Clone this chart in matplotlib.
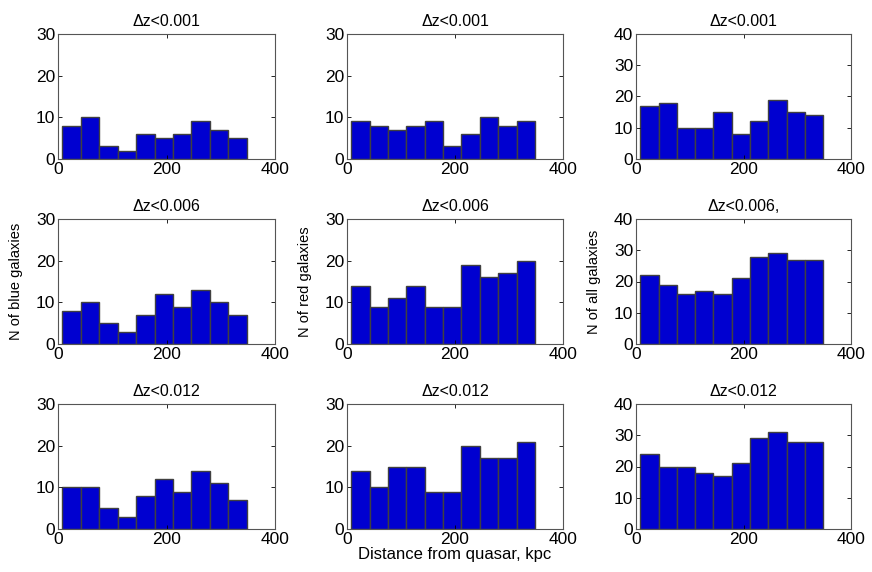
import matplotlib
matplotlib.use("Agg")
import matplotlib.pyplot as plt
import numpy as np

plt.rcParams['font.family'] = ['Liberation Sans', 'DejaVu Sans']

# histogram bin edges (kpc)
bin_edges = [8, 42, 76, 110, 144, 178, 212, 246, 280, 314, 348]

# counts per bin: rows = dz cut, columns = blue / red / all
blue_001 = [8, 10, 3, 2, 6, 5, 6, 9, 7, 5]
red_001 = [9, 8, 7, 8, 9, 3, 6, 10, 8, 9]
all_001 = [17, 18, 10, 10, 15, 8, 12, 19, 15, 14]
blue_006 = [8, 10, 5, 3, 7, 12, 9, 13, 10, 7]
red_006 = [14, 9, 11, 14, 9, 9, 19, 16, 17, 20]
all_006 = [22, 19, 16, 17, 16, 21, 28, 29, 27, 27]
blue_012 = [10, 10, 5, 3, 8, 12, 9, 14, 11, 7]
red_012 = [14, 10, 15, 15, 9, 9, 20, 17, 17, 21]
all_012 = [24, 20, 20, 18, 17, 21, 29, 31, 28, 28]

counts = [[blue_001, red_001, all_001],
          [blue_006, red_006, all_006],
          [blue_012, red_012, all_012]]
titles = [["Δz<0.001", "Δz<0.001", "Δz<0.001"],
          ["Δz<0.006", "Δz<0.006", "Δz<0.006,"],
          ["Δz<0.012", "Δz<0.012", "Δz<0.012"]]
ylabels = ["N of blue galaxies", "N of red galaxies", "N of all galaxies"]
ymax = [30, 30, 40]

W, H = 872, 572
fig = plt.figure(figsize=(W / 100, H / 100), dpi=100)

lefts = [58, 347, 636]
widths = [217, 216, 215]
tops = [34, 219, 404]
height = 125

edges = np.array(bin_edges)
for r in range(3):
    for c in range(3):
        ax = fig.add_axes([lefts[c] / W, 1 - (tops[r] + height) / H,
                           widths[c] / W, height / H])
        ax.bar(edges[:-1], counts[r][c], width=np.diff(edges), align='edge',
               color='#0000d0', edgecolor='#404040', linewidth=1.0)
        ax.set_xlim(0, 400)
        ax.set_ylim(0, ymax[c])
        ax.set_xticks([0, 200, 400])
        ax.set_yticks(np.arange(0, ymax[c] + 1, 10))
        ax.tick_params(direction='in', top=True, right=True, length=3,
                       labelsize=12.5, colors='#000000', width=0.6, pad=2)
        for s in ax.spines.values():
            s.set_linewidth(0.8)
            s.set_color('#555555')
        ax.set_title(titles[r][c], fontsize=11.5, pad=6)
        if r == 1:
            ax.set_ylabel(ylabels[c], fontsize=10.5, labelpad=9)
        if r == 2 and c == 1:
            ax.set_xlabel("Distance from quasar, kpc", fontsize=12, labelpad=0)

fig.savefig("out.png", dpi=100)
